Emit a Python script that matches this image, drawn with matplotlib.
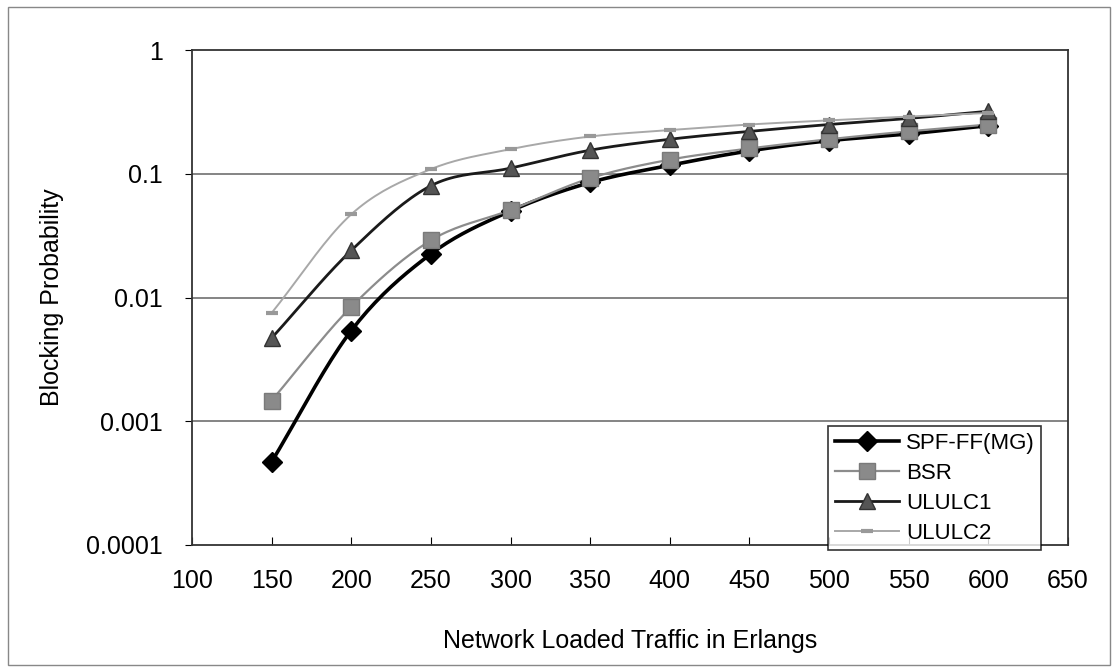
import numpy as np
import matplotlib
matplotlib.use("Agg")
import matplotlib.pyplot as plt
from matplotlib.patches import Rectangle
from matplotlib.ticker import FixedLocator, FixedFormatter, NullLocator

plt.rcParams['font.family'] = ['Liberation Sans', 'DejaVu Sans']

# traffic load (Erlangs)
traffic = [150, 200, 250, 300, 350, 400, 450, 500, 550, 600]

# blocking probability per scheme
spf_ff = [0.00047, 0.0054, 0.0225, 0.050, 0.085, 0.117, 0.153, 0.185, 0.21, 0.245]
bsr = [0.00147, 0.0084, 0.029, 0.051, 0.092, 0.13, 0.16, 0.19, 0.22, 0.25]
ululc1 = [0.0047, 0.024, 0.08, 0.111, 0.155, 0.19, 0.22, 0.25, 0.28, 0.32]
ululc2 = [0.0075, 0.047, 0.109, 0.158, 0.2, 0.225, 0.25, 0.27, 0.29, 0.31]

labels = ["SPF-FF(MG)", "BSR", "ULULC1", "ULULC2"]
ytick_vals = [0.0001, 0.001, 0.01, 0.1, 1]
ytick_text = ["0.0001", "0.001", "0.01", "0.1", "1"]


def smooth(x, y, n=20):
	# Catmull-Rom through the points, in log space (like excel smoothed lines)
	x = np.asarray(x, float)
	y = np.log10(np.asarray(y, float))
	px = np.concatenate([[2*x[0]-x[1]], x, [2*x[-1]-x[-2]]])
	py = np.concatenate([[2*y[0]-y[1]], y, [2*y[-1]-y[-2]]])
	xs, ys = [], []
	t = np.linspace(0, 1, n, endpoint=False)
	for i in range(1, len(px)-2):
		for p, out in ((px, xs), (py, ys)):
			p0, p1, p2, p3 = p[i-1], p[i], p[i+1], p[i+2]
			out.extend(0.5*((2*p1) + (-p0+p2)*t + (2*p0-5*p1+4*p2-p3)*t**2 + (-p0+3*p1-3*p2+p3)*t**3))
	xs.append(x[-1])
	ys.append(y[-1])
	return np.array(xs), 10**np.array(ys)


fig = plt.figure(figsize=(11.18, 6.72), dpi=100)
ax = fig.add_axes([192/1118, 1-545/672, 876/1118, 495/672])

styles = [
	dict(color='black', lw=2.6, marker='D', ms=10, mfc='black', mec='black'),
	dict(color='#8c8c8c', lw=1.6, marker='s', ms=12, mfc='#8a8a8a', mec='#7a7a7a'),
	dict(color='#1a1a1a', lw=2.0, marker='^', ms=11, mfc='#555555', mec='#333333'),
	dict(color='#a8a8a8', lw=1.4, marker='_', ms=9, mfc='#999999', mec='#999999', mew=3),
]

for ys, lab, st in zip([spf_ff, bsr, ululc1, ululc2], labels, styles):
	sx, sy = smooth(traffic, ys)
	ax.plot(sx, sy, color=st['color'], lw=st['lw'], zorder=3)
	ax.plot(traffic, ys, ls='none', marker=st['marker'], ms=st['ms'], mfc=st['mfc'],
		mec=st['mec'], mew=st.get('mew', 1), zorder=4)
	# proxy for legend
	ax.plot([], [], label=lab, **st)

ax.set_yscale('log')
ax.set_ylim(0.0001, 1)
ax.set_xlim(100, 650)
ax.yaxis.set_major_locator(FixedLocator(ytick_vals))
ax.yaxis.set_major_formatter(FixedFormatter(ytick_text))
ax.yaxis.set_minor_locator(NullLocator())
ax.set_xticks(np.arange(100, 651, 50))

for v in [0.001, 0.01, 0.1]:
	ax.axhline(v, color='#707070', lw=1.2, zorder=1)

ax.tick_params(axis='x', direction='in', length=6, labelsize=18, pad=17)
ax.tick_params(axis='y', direction='out', length=5, labelsize=18, pad=16)
for s in ax.spines.values():
	s.set_color('#333333')
	s.set_linewidth(1.3)

ax.set_xlabel("Network Loaded Traffic in Erlangs", fontsize=18, labelpad=26)
ax.set_ylabel("Blocking Probability", fontsize=18, labelpad=16)

leg = ax.legend(loc='upper left', bbox_to_anchor=(0.726, 0.24), fontsize=16,
	frameon=True, fancybox=False, edgecolor='black', handlelength=2.9,
	borderaxespad=0, labelspacing=0.4, borderpad=0.3, handletextpad=0.3)
leg.get_frame().set_linewidth(1.2)
leg.set_zorder(5)

# scanned chart border
fig.patches.append(Rectangle((8/1118, 7/672), 1102/1118, 658/672, transform=fig.transFigure,
	fill=False, edgecolor='#888888', lw=1.0))

fig.savefig("out.png", dpi=100)
